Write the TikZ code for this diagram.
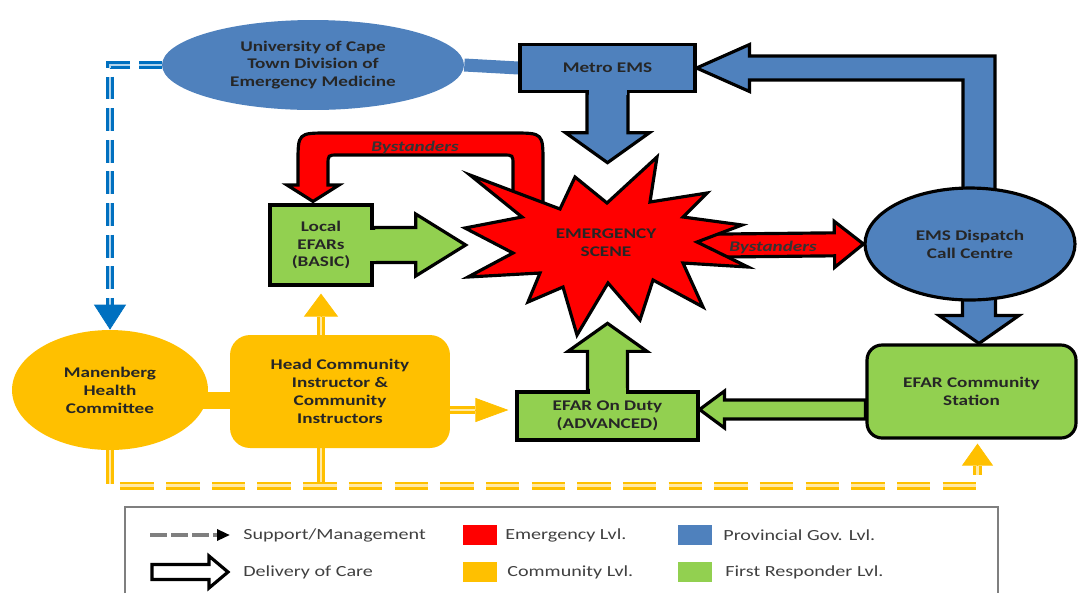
\documentclass[tikz,border=0pt]{standalone}
\usepackage{fontspec}
\setmainfont{Carlito}[FakeStretch=1.3]
\usetikzlibrary{calc,shapes.geometric,arrows.meta}

\definecolor{provblue}{HTML}{4F81BD}
\definecolor{emred}{HTML}{FF0000}
\definecolor{commyellow}{HTML}{FFC000}
\definecolor{efargreen}{HTML}{92D050}
\definecolor{supblue}{HTML}{0070C0}
\definecolor{legendgray}{HTML}{7F7F7F}
\definecolor{legendtext}{HTML}{404040}

\pgfdeclarelayer{links}
\pgfsetlayers{links,main}

% block arrow: [style]{start}{tip}{half shaft}{half head}{head length}
\newcommand\blockarrow[6][]{%
  \coordinate (ba-h) at ($(#3)!#6!(#2)$);
  \draw[#1] ($(#2)!#4!90:(#3)$) -- ($(ba-h)!#4!-90:(#2)$) -- ($(ba-h)!#5!-90:(#2)$) -- (#3)
    -- ($(ba-h)!#5!90:(#2)$) -- ($(ba-h)!#4!90:(#2)$) -- ($(#2)!#4!-90:(#3)$) -- cycle;}

\tikzset{
  boxtext/.style={align=center, inner sep=0pt, text=black!85,
    font=\fontsize{8.4}{10.2}\selectfont\bfseries},
  outline/.style={draw=black, line width=1.8pt, line join=miter},
  provnode/.style={boxtext, fill=provblue},
  firstnode/.style={boxtext, outline, fill=efargreen},
  commnode/.style={boxtext, fill=commyellow},
  provarrow/.style={outline, fill=provblue},
  emarrow/.style={outline, fill=emred},
  firstarrow/.style={outline, fill=efargreen},
  bylabel/.style={inner sep=0pt, text=black!80,
    font=\fontsize{8.4}{10.2}\selectfont\bfseries\itshape},
  commsupport/.style={draw=commyellow, double=commyellow!35, line width=1.5pt,
    double distance=1.6pt, dash pattern=on 19pt off 7pt},
  provsupport/.style={draw=supblue, double=supblue!30, line width=1.4pt,
    double distance=1.6pt, dash pattern=on 13pt off 5pt},
  commtip/.style args={#1/#2}{commyellow, line width=0.4pt, -{Triangle[width=#1,length=#2]}},
  provtip/.style={supblue, line width=0.4pt, -{Triangle[width=0.64cm,length=0.5cm]}},
  swatch/.style={minimum width=0.68cm, minimum height=0.4cm, inner sep=0pt},
  legtext/.style={anchor=west, inner sep=0pt, text=legendtext,
    font=\fontsize{8.8}{10}\selectfont},
}

\begin{document}
\begin{tikzpicture}[x=0.02cm, y=-0.02cm]
\useasboundingbox (0,0) rectangle (1078,593);

% levels
\node[provnode, ellipse, minimum width=6.04cm, minimum height=1.8cm] (uct) at (313,65)
  {University of Cape\\Town Division of\\Emergency Medicine};
\node[provnode, outline, minimum width=3.5cm, minimum height=0.94cm] (metro) at (607.5,68) {Metro EMS};
\node[provnode, outline, ellipse, minimum width=4.2cm, minimum height=2.24cm] (dispatch) at (970,244)
  {EMS Dispatch\\Call Centre};
\node[firstnode, minimum width=2.04cm, minimum height=1.6cm] (local) at (321,245) {Local\\EFARs\\(BASIC)};
\node[firstnode, rounded corners=0.3cm, minimum width=4.18cm, minimum height=1.86cm] (station) at (971.5,391.5)
  {EFAR Community\\Station};
\node[firstnode, minimum width=3.62cm, minimum height=0.96cm] (duty) at (607.5,416) {EFAR On Duty\\(ADVANCED)};
\node[commnode, ellipse, minimum width=3.92cm, minimum height=2.4cm] (mhc) at (110,390) {Manenberg\\Health\\Committee};
\node[commnode, rounded corners=0.4cm, minimum width=4.4cm, minimum height=2.26cm] (head) at (340,391.5)
  {Head Community\\Instructor \&\\Community\\Instructors};

% emergency scene
\coordinate (scenec) at (606,245);
\draw[emarrow, shift={(scenec)}] (-136,-70) -- (-46,-36) -- (-31,-68) -- (1,-42) -- (51,-88) -- (44,-43)
  -- (101,-52) -- (77,-28) -- (136,-20) -- (91,-3) -- (142,22) -- (77,18) -- (97,62) -- (47,35)
  -- (34,75) -- (2,38) -- (-29,90) -- (-43,42) -- (-78,57) -- (-66,28) -- (-138,32) -- (-93,8)
  -- (-141,-17) -- (-84,-28) -- cycle;
\node[boxtext, ellipse, minimum width=5.6cm, minimum height=3.2cm] (scene) at (606,243) {EMERGENCY\\SCENE};

\begin{pgfonlayer}{links}
  % support / management
  \coordinate (mhctop) at ($(mhc.north)+(0,-25)$);
  \draw[provsupport] (uct.west) -| (mhctop);
  \draw[provtip] (mhctop) -- (mhc.north);
  \coordinate (stfoot) at ($(station.south)+(6,46)$);
  \coordinate (sttip) at ($(stfoot |- station.south)+(0,4)$);
  \coordinate (stbase) at ($(sttip)+(0,22)$);
  \draw[commsupport] (mhc.south) |- (stfoot) -- (stbase);
  \draw[commtip=0.62cm/0.44cm] (stbase) -- (sttip);
  \draw[commsupport] (local.south |- head.south) -- (local.south |- stfoot);
  \coordinate (loctip) at ($(local.south)+(0,7)$);
  \coordinate (locbase) at ($(loctip)+(0,23)$);
  \draw[commsupport] (local.south |- head.north) -- (locbase);
  \draw[commtip=0.68cm/0.46cm] (locbase) -- (loctip);
  \coordinate (dutytip) at ($(duty.west)+(-7,-6)$);
  \coordinate (dutybase) at ($(dutytip)+(-33,0)$);
  \draw[commsupport] (head.east |- dutytip) -- (dutybase);
  \draw[commtip=0.48cm/0.66cm] (dutybase) -- (dutytip);
  \draw[provblue, line width=7.4pt] (uct.east) -- (metro.west);
  \fill[commyellow] ($(mhc.east)+(-6,2)$) rectangle ($(head.west)+(2,17)$);

  % bystanders
  \coordinate (bytip) at ($(local.north)+(-8,-2)$);
  \draw[emarrow] (513,205) -- (513,165) .. controls (513,155) .. (503,155) -- (338,155)
    .. controls (328,155) .. (328,165) -- (328,185) -- (339,185) -- (bytip) -- (287,185)
    -- (298,185) -- (298,163) .. controls (298,133) .. (328,133) -- (513,133)
    .. controls (543,133) .. (543,163) -- (543,212) -- cycle;
  \coordinate (byout) at ($(scenec)+(72,1)$);
  \blockarrow[emarrow]{byout}{dispatch.west}{0.23cm}{0.46cm}{0.58cm}

  % delivery of care
  \coordinate (lefttip) at (local.east -| scene.west);
  \blockarrow[firstarrow]{local.east}{lefttip}{0.35cm}{0.62cm}{1.0cm}
  \coordinate (duttip) at (duty.north |- scene.south);
  \blockarrow[firstarrow]{duty.north}{duttip}{0.4cm}{0.79cm}{0.56cm}
  \coordinate (stout) at ($(station.west)+(0,18)$);
  \coordinate (stin) at (duty.east |- stout);
  \blockarrow[firstarrow]{stout}{stin}{0.19cm}{0.37cm}{0.5cm}
  \coordinate (metrotip) at (metro.south |- scene.north);
  \blockarrow[provarrow]{metro.south}{metrotip}{0.41cm}{0.84cm}{0.6cm}
  \coordinate (dsout) at ($(dispatch.south)+(9,-10)$);
  \coordinate (dsin) at (dsout |- station.north);
  \blockarrow[provarrow]{dsout}{dsin}{0.33cm}{0.8cm}{0.56cm}
  \draw[provarrow] ($(dispatch.north)+(-7,12)$) |- ($(metro.east)+(53,12)$) -- ++(0,11.5) -- (metro.east)
    -- ++(53,-23.5) -- ++(0,11.5) -| ($(dispatch.north)+(25,12)$) -- cycle;
\end{pgfonlayer}

% join arrows to their boxes
\fill[efargreen] ($(local.east)+(-4,-15.5)$) rectangle ($(local.east)+(2,15.5)$);
\fill[efargreen] ($(duty.north)+(-18,4)$) rectangle ($(duty.north)+(18,-2)$);
\fill[provblue] ($(metro.south)+(-19,-4)$) rectangle ($(metro.south)+(19,2)$);

\node[bylabel] (uplabel) at (415,147) {Bystanders};
\node[bylabel] (rightlabel) at (773,247) {Bystanders};

% legend
\draw[legendgray, line width=0.8pt] (125,593) |- (998,507) -- (998,593);
\coordinate (supa) at (150,535);
\coordinate (supb) at (230,535);
\draw[legendgray, line width=1.8pt, dash pattern=on 9.6pt off 2.4pt,
  -{Triangle[width=0.22cm,length=0.26cm,black]}] (supa) -- (supb);
\coordinate (dela) at (152,572);
\coordinate (delb) at (228,572);
\blockarrow[outline, fill=white]{dela}{delb}{0.15cm}{0.32cm}{0.38cm}
\node[legtext] (txsup) at (243,535) {Support/Management};
\node[legtext] (txdel) at (243,572) {Delivery of Care};
\node[swatch, fill=emred] (swem) at (480,535) {};
\node[swatch, fill=commyellow] (swcomm) at (480,572) {};
\node[swatch, fill=provblue] (swprov) at (695,535) {};
\node[swatch, fill=efargreen] (swfirst) at (695,572) {};
\node[legtext] (txem) at (505,535) {Emergency Lvl.};
\node[legtext] (txcomm) at (507,572) {Community Lvl.};
\node[legtext] (txprov) at (723,535) {Provincial Gov. Lvl.};
\node[legtext] (txfirst) at (725,572) {First Responder Lvl.};
\end{tikzpicture}
\end{document}
